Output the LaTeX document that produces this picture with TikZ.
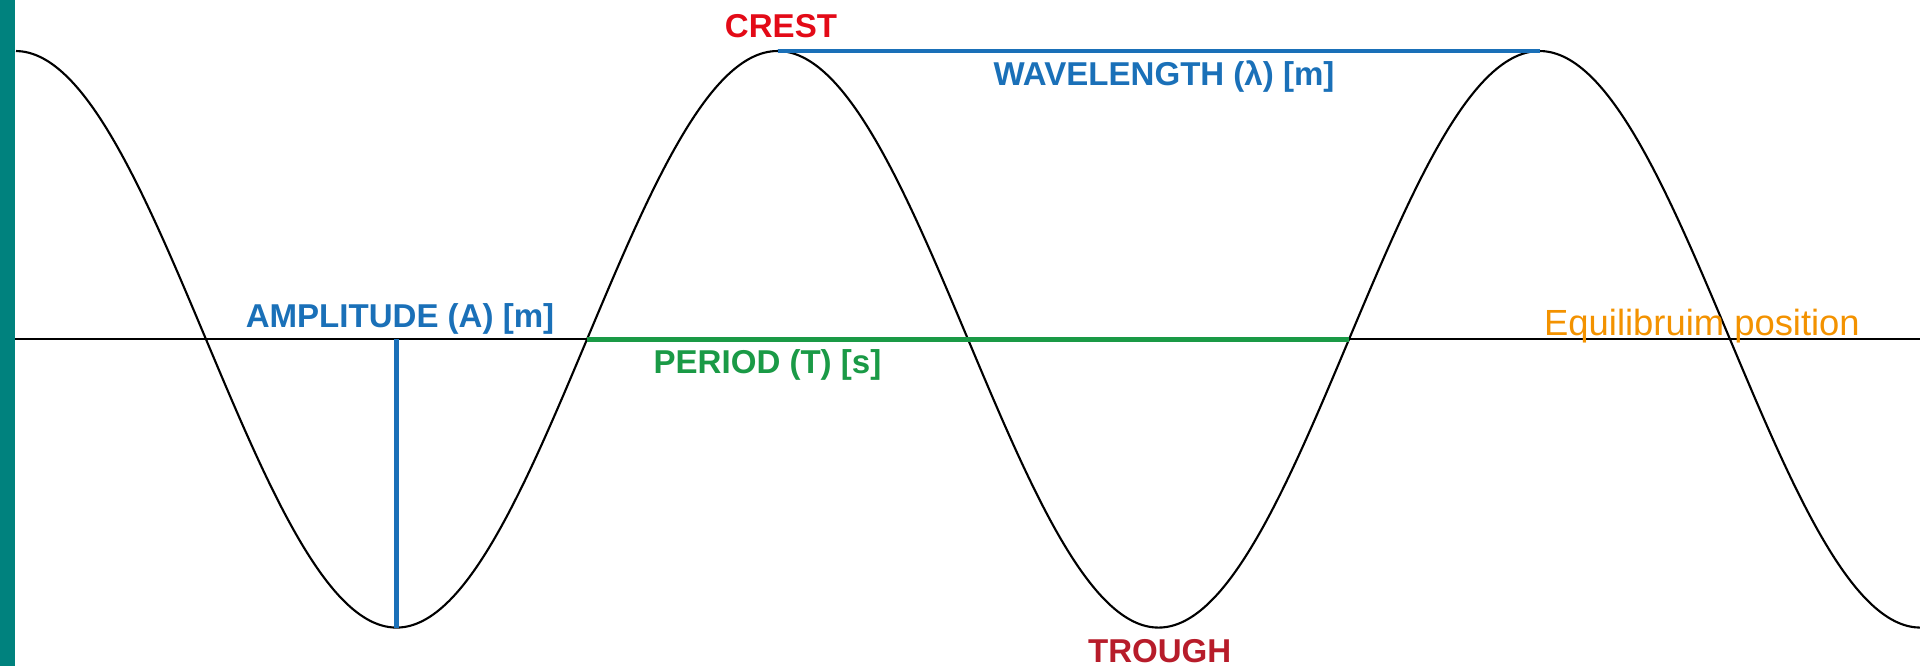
\documentclass[tikz,border=0pt]{standalone}
\usepackage{fontspec}
\setmainfont{Liberation Sans}
\usetikzlibrary{positioning}
\definecolor{wteal}{HTML}{00827E}
\definecolor{wblue}{HTML}{1A70B8}
\definecolor{wgreen}{HTML}{1A9A46}
\definecolor{wred}{HTML}{E30A17}
\definecolor{wdred}{HTML}{B71C2A}
\definecolor{worange}{HTML}{F39200}

\begin{document}
\begin{tikzpicture}[x=0.01cm, y=-0.01cm,
    lbl/.style={inner sep=0pt, anchor=base, font=\fontsize{9.4}{11}\selectfont\bfseries},
    wave/.style={draw=black, line width=0.6pt},
    meas/.style={line width=1.15pt}
]
    \useasboundingbox (0,0) rectangle (1920,666);
    \fill[wteal] (0,0) rectangle (15,666);

    % key points of the wave
    \coordinate (axL) at (15,339.3);
    \coordinate (axR) at (1920,339.3);
    \coordinate (crestA) at (777.5,51);
    \coordinate (crestB) at (1539.5,51);
    \coordinate (troughA) at (396.5,627.6);
    \coordinate (ampA) at (396.5,339.3);
    \coordinate (zeroA) at (587,339.3);
    \coordinate (zeroB) at (1349,339.3);

    \draw[line width=0.6pt] (axL) -- (axR);
    \draw[wave] plot[domain=16:1920, samples=300, smooth] (\x, {339.3-288.3*cos(((\x-15.5)/762)*360)});

    \draw[meas, wblue] (crestA) -- (crestB);
    \draw[meas, wblue] (ampA) -- (troughA);
    \draw[meas, wgreen, line width=1.3pt] (zeroA) -- (zeroB);

    \node[lbl, wred] (crest) at (781,37.3) {CREST};
    \node[lbl, wblue] (wavelen) at (1164,85) {WAVELENGTH (λ) [m]};
    \node[lbl, wblue] (amp) at (400,327.7) {AMPLITUDE (A) [m]};
    \node[lbl, wgreen] (period) at (767.5,373) {PERIOD (T) [s]};
    \node[lbl, wdred] (trough) at (1159.7,662) {TROUGH};
    \node[lbl, worange, font=\fontsize{10.35}{12}\selectfont] (equil) at (1702,335) {Equilibruim position};
\end{tikzpicture}
\end{document}
